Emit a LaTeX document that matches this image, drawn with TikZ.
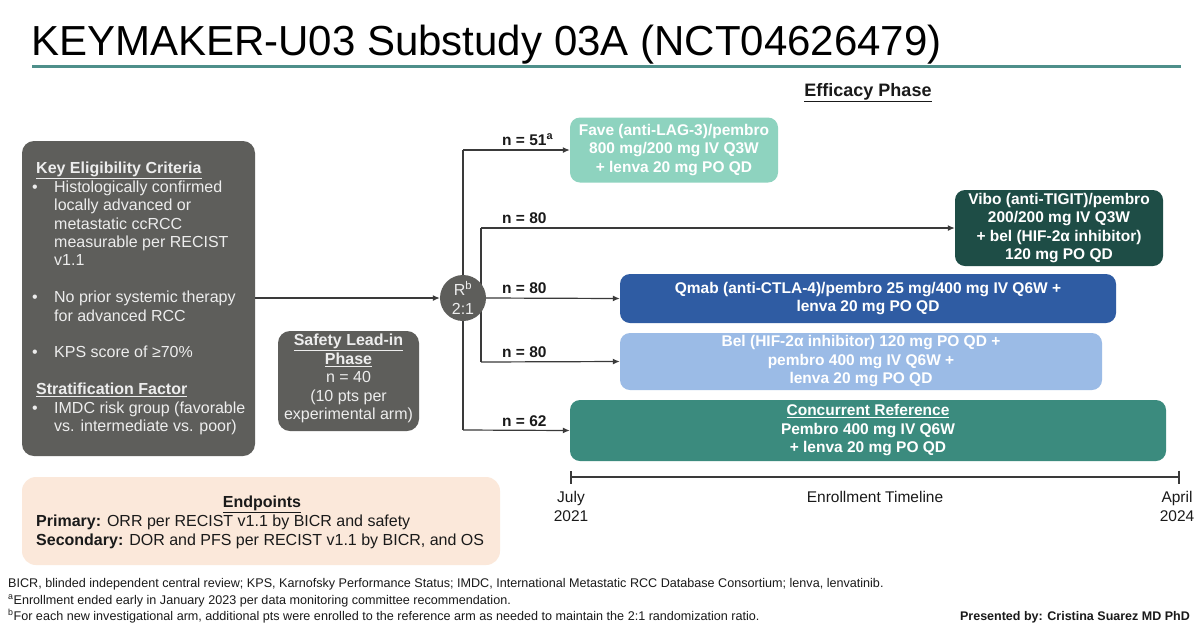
\documentclass[tikz,border=0pt]{standalone}
\usepackage{fontspec}
\setmainfont{Liberation Sans}
\setsansfont{Liberation Sans}
\usetikzlibrary{arrows.meta}
\definecolor{greybox}{HTML}{5E5E5B}
\definecolor{lighttext}{HTML}{EDEDED}
\definecolor{mint}{HTML}{8ED3BF}
\definecolor{darkteal}{HTML}{1E4D46}
\definecolor{qblue}{HTML}{2F5CA3}
\definecolor{lblue}{HTML}{9BBBE6}
\definecolor{refteal}{HTML}{3B8B7E}
\definecolor{peach}{HTML}{FBE8DA}
\definecolor{rulecol}{HTML}{4E8F8A}
\definecolor{linecol}{HTML}{3A3A3A}
\definecolor{txt}{HTML}{1A1A1A}
\tikzset{
  armbox/.style={draw=none, rounded corners=10pt, text=white, align=center,
    font=\bfseries\fontsize{15.5}{18.5}\selectfont, inner sep=0pt},
  greyround/.style={fill=greybox, rounded corners=12pt},
  conn/.style={draw=linecol, line width=1.2pt},
  arr/.style={conn, -{Latex[length=7pt,width=6pt]}},
  nlab/.style={font=\bfseries\fontsize{15.5}{18}\selectfont, text=txt, inner sep=0pt, anchor=base west},
  foot/.style={font=\fontsize{12.6}{15}\selectfont, text=txt, inner sep=0pt, anchor=base west},
  tlab/.style={font=\fontsize{15.5}{19}\selectfont, text=txt, inner sep=0pt, anchor=base},
}
\newcommand{\bul}{\hspace*{-4pt}\makebox[22pt][l]{\textbullet}}
\newcommand{\ind}{\hspace*{18pt}}
\begin{document}
\begin{tikzpicture}[x=1pt,y=-1pt]
\useasboundingbox (0,0) rectangle (1200,633);
\fill[white] (0,0) rectangle (1200,633);
% title
\node[anchor=base west, inner sep=0pt, font=\fontsize{42}{46}\selectfont, text=black] (title) at (31,55) {KEYMAKER-U03 Substudy 03A (NCT04626479)};
\fill[rulecol] (32,64.5) rectangle (1181,68);
% efficacy
\node[anchor=base, inner sep=0pt, font=\bfseries\fontsize{18}{20}\selectfont, text=txt] (eff) at (868,96) {\underline{Efficacy Phase}};
% left box
\path[greyround] (22,141) rectangle (255,456);
\coordinate (lbE) at (255,298);
\node[anchor=north west, inner sep=0pt, text=lighttext, align=left, font=\fontsize{16}{18.4}\selectfont] (lb) at (36,162) {%
\textbf{\underline{Key Eligibility Criteria}}\\
\bul Histologically confirmed\\
\ind locally advanced or\\
\ind metastatic ccRCC\\
\ind measurable per RECIST\\
\ind v1.1\\
\mbox{}\\
\bul No prior systemic therapy\\
\ind for advanced RCC\\
\mbox{}\\
\bul KPS score of ≥70\%\\
\mbox{}\\
\textbf{\underline{Stratification Factor}}\\
\bul IMDC risk group (favorable\\
\ind vs. intermediate vs. poor)};
% safety box
\path[greyround] (278,331) rectangle (419,431);
\node[anchor=north, inner sep=0pt, text=lighttext, align=center, font=\fontsize{16}{18.5}\selectfont] (safe) at (348.5,334) {%
\textbf{\underline{Safety Lead-in}}\\ \textbf{\underline{Phase}}\\ n = 40\\ (10 pts per\\ experimental arm)};
% randomization circle
\coordinate (top) at (463,150);
\coordinate (bot) at (463,430);
\coordinate (t2) at (481,228);
\coordinate (b2) at (481,362);
\draw[conn] (top) -- (bot);
\draw[conn] (t2) -- (b2);
\node[circle, fill=greybox, minimum size=46pt, inner sep=0pt, text=lighttext, align=center, font=\fontsize{16}{19}\selectfont] (R) at (463,298) {R\textsuperscript{b}\\2:1};
\draw[arr] (lbE) -- (R.west);
% arms
\node[armbox, fill=mint, minimum width=208pt, minimum height=65pt] (fave) at (674,150) {Fave (anti-LAG-3)/pembro\\800 mg/200 mg IV Q3W\\+ lenva 20 mg PO QD};
\node[armbox, fill=darkteal, minimum width=208pt, minimum height=76pt] (vibo) at (1059,228) {Vibo (anti-TIGIT)/pembro\\200/200 mg IV Q3W\\+ bel (HIF-2α inhibitor)\\120 mg PO QD};
\node[armbox, fill=qblue, minimum width=496pt, minimum height=49pt] (qmab) at (868,298.5) {Qmab (anti-CTLA-4)/pembro 25 mg/400 mg IV Q6W +\\lenva 20 mg PO QD};
\node[armbox, fill=lblue, minimum width=482pt, minimum height=57pt] (bel) at (861,361.5) {Bel (HIF-2α inhibitor) 120 mg PO QD +\\pembro 400 mg IV Q6W +\\lenva 20 mg PO QD};
\node[armbox, fill=refteal, minimum width=596pt, minimum height=61pt] (ref) at (868,430.5) {\underline{Concurrent Reference}\\Pembro 400 mg IV Q6W\\+ lenva 20 mg PO QD};
% connectors
\draw[arr] (top) -- (fave.west);
\draw[arr] (t2) -- (vibo.west);
\draw[arr] (R.east) -- (qmab.west);
\draw[arr] (b2) -- (bel.west);
\draw[arr] (bot) -- (ref.west);
\node[nlab] (n1) at (502,145) {n = 51\textsuperscript{a}};
\node[nlab] (n2) at (502,223) {n = 80};
\node[nlab] (n3) at (502,293) {n = 80};
\node[nlab] (n4) at (502,357) {n = 80};
\node[nlab] (n5) at (502,426) {n = 62};
% timeline
\coordinate (tl1) at (570,477);
\coordinate (tl2) at (1180,477);
\draw[draw=linecol, line width=2pt, {Bar[width=13pt,line width=1.6pt]}-{Bar[width=13pt,line width=1.6pt]}] (tl1) -- (tl2);
\node[tlab] (jul) at (571,502) {July};
\node[tlab] (y21) at (571,521) {2021};
\node[tlab] (enr) at (875,502) {Enrollment Timeline};
\node[tlab] (apr) at (1177,502) {April};
\node[tlab] (y24) at (1177,521) {2024};
% endpoints
\path[fill=peach, rounded corners=14pt] (22,477) rectangle (500,565);
\node[anchor=base, inner sep=0pt, font=\bfseries\fontsize{16}{19}\selectfont, text=txt] (ep) at (262,507) {\underline{Endpoints}};
\node[anchor=base west, inner sep=0pt, font=\fontsize{16}{19}\selectfont, text=txt] (ep1) at (36,526) {\textbf{Primary:} ORR per RECIST v1.1 by BICR and safety};
\node[anchor=base west, inner sep=0pt, font=\fontsize{16}{19}\selectfont, text=txt] (ep2) at (36,545) {\textbf{Secondary:} DOR and PFS per RECIST v1.1 by BICR, and OS};
% footnotes
\node[foot] (f1) at (8,587) {BICR, blinded independent central review; KPS, Karnofsky Performance Status; IMDC, International Metastatic RCC Database Consortium; lenva, lenvatinib.};
\node[foot] (f2) at (8,604) {\textsuperscript{a}Enrollment ended early in January 2023 per data monitoring committee recommendation.};
\node[foot] (f3) at (8,620) {\textsuperscript{b}For each new investigational arm, additional pts were enrolled to the reference arm as needed to maintain the 2:1 randomization ratio.};
\node[anchor=base east, inner sep=0pt, font=\bfseries\fontsize{12.5}{15}\selectfont, text=txt] (pres) at (1190,620) {Presented by: Cristina Suarez MD PhD};
\end{tikzpicture}
\end{document}
